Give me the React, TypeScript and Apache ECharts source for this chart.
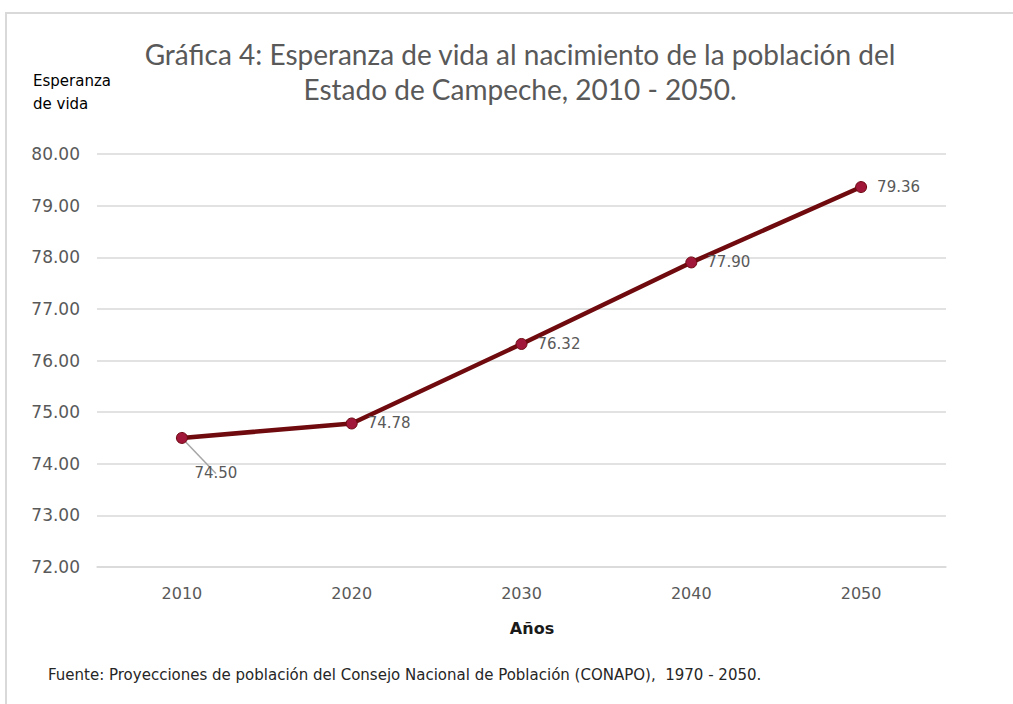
import React, { useEffect, useRef } from "react";
import * as echarts from "echarts";

const years = ["2010", "2020", "2030", "2040", "2050"];
const lifeExpectancy = [74.5, 74.78, 76.32, 77.9, 79.36];
const titleLines = [
  "Gráfica 4: Esperanza de vida al nacimiento de la población del",
  "Estado de Campeche, 2010 - 2050.",
];
const yAxisTitle = "Esperanza\nde vida";
const xAxisTitle = "Años";
const sourceNote =
  "Fuente: Proyecciones de población del Consejo Nacional de Población (CONAPO),  1970 - 2050.";

export default function App() {
  const ref = useRef<HTMLDivElement>(null);
  useEffect(() => {
    if (!ref.current) return;
    const chart = echarts.init(ref.current, null, { renderer: "svg" });
    chart.setOption({
      animation: false,
      backgroundColor: "#ffffff",
      title: {
        text: titleLines.join("\n"),
        left: 515,
        textAlign: "center",
        top: 31,
        textStyle: {
          fontFamily: "Lato",
          fontWeight: "normal",
          fontSize: 28,
          lineHeight: 35,
          color: "#595959",
        },
      },
      grid: { left: 97, right: 67, top: 154, bottom: 137 },
      xAxis: {
        type: "category",
        data: years,
        boundaryGap: true,
        axisLine: { show: true, lineStyle: { color: "#d9d9d9", width: 1.5 } },
        axisTick: { show: false },
        axisLabel: {
          margin: 18,
          fontFamily: "DejaVu Sans",
          fontSize: 16,
          color: "#595959",
        },
      },
      yAxis: {
        type: "value",
        min: 72,
        max: 80,
        interval: 1,
        axisLine: { show: false },
        axisTick: { show: false },
        splitLine: { lineStyle: { color: "#d9d9d9", width: 1.5 } },
        axisLabel: {
          margin: 17,
          fontFamily: "DejaVu Sans",
          fontSize: 17,
          color: "#595959",
          formatter: (v: number) => v.toFixed(2),
        },
      },
      graphic: [
        {
          type: "rect",
          shape: { x: 6, y: 13, width: 1020, height: 700 },
          style: { fill: "none", stroke: "#d9d9d9", lineWidth: 2 },
          silent: true,
        },
        {
          type: "text",
          left: 33,
          top: 69,
          style: {
            text: yAxisTitle,
            fontFamily: "DejaVu Sans",
            fontSize: 15,
            fontWeight: "normal",
            lineHeight: 23,
            fill: "#000000",
          },
        },
        {
          type: "text",
          x: 532,
          y: 628,
          style: {
            text: xAxisTitle,
            fontFamily: "DejaVu Sans",
            fontSize: 16,
            fontWeight: "bold",
            fill: "#1a1a1a",
            align: "center",
            verticalAlign: "middle",
          },
        },
        {
          type: "text",
          left: 48,
          top: 667,
          style: {
            text: sourceNote,
            fontFamily: "DejaVu Sans",
            fontSize: 15,
            fill: "#262626",
          },
        },
      ],
      series: [
        {
          type: "line",
          data: lifeExpectancy.map((v, i) =>
            i === 0
              ? {
                  value: v,
                  label: { position: "bottom", offset: [34, 12] },
                  labelLine: { show: true },
                }
              : v
          ),
          lineStyle: { color: "#6f0a0e", width: 4.5 },
          symbol: "circle",
          symbolSize: 11,
          itemStyle: { color: "#a0173a", borderColor: "#6e0a12", borderWidth: 1 },
          label: {
            show: true,
            position: "right",
            distance: 10,
            fontFamily: "DejaVu Sans",
            fontSize: 15,
            color: "#595959",
            formatter: (p: any) => Number(p.value).toFixed(2),
          },
          labelLine: { lineStyle: { color: "#a6a6a6", width: 1.5 } },
        },
      ],
    });
    return () => chart.dispose();
  }, []);
  return (
    <div
      ref={ref}
      style={{ position: "absolute", left: 0, top: 0, width: 1013, height: 704 }}
    />
  );
}
